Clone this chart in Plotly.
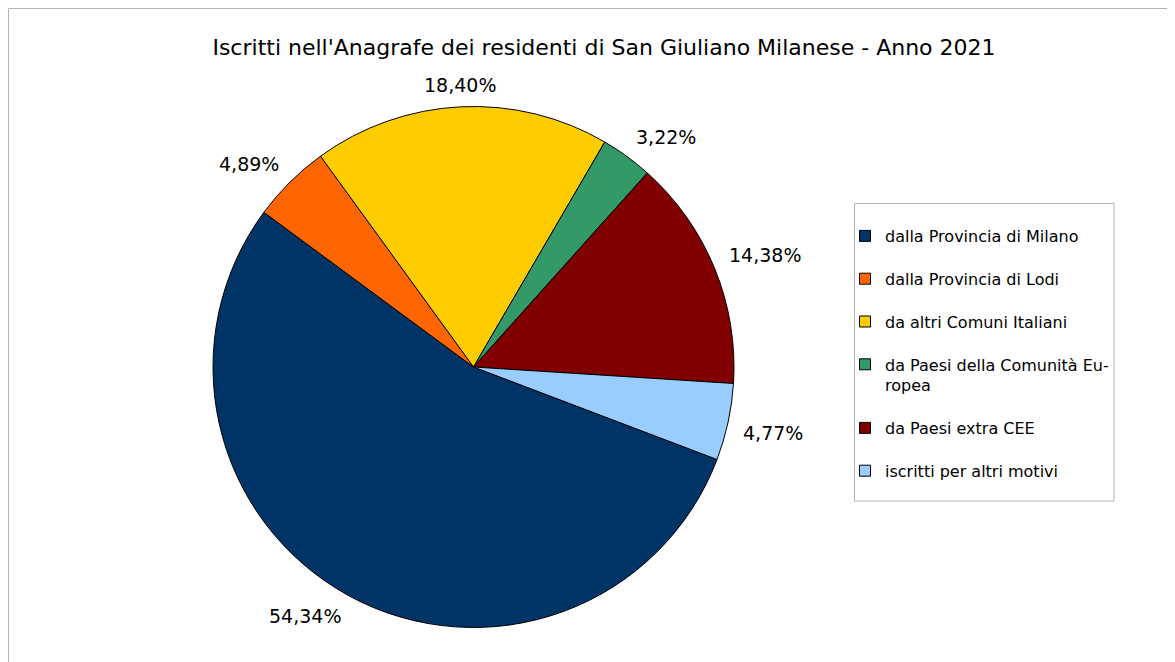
import math
import plotly.graph_objects as go

categories = [
    "dalla Provincia di Milano",
    "dalla Provincia di Lodi",
    "da altri Comuni Italiani",
    "da Paesi della Comunità Eu-<br>ropea",
    "da Paesi extra CEE",
    "iscritti per altri motivi",
]
values = [54.34, 4.89, 18.40, 3.22, 14.38, 4.77]
colors = ["#003366", "#ff6600", "#ffcc00", "#339966", "#800000", "#99ccff"]
title = "Iscritti nell'Anagrafe dei residenti di San Giuliano Milanese - Anno 2021"

W, H = 1175, 662
OFF = 8  # page body margin
FONT = "DejaVu Sans"
ROTATION = 110.8

# pie placement (pixels in the page)
PIE_L, PIE_R, PIE_T, PIE_B = 213, 734, 106, 628


def px_x(x):
    return (x - OFF) / W


def px_y(y):
    return 1 - (y - OFF) / H


labels_txt = [f"{v:.2f}%".replace(".", ",") for v in values]

fig = go.Figure()
fig.add_trace(go.Pie(
    labels=categories,
    values=values,
    textinfo="none",
    sort=False,
    direction="clockwise",
    rotation=ROTATION,
    marker=dict(colors=colors, line=dict(color="#000000", width=1)),
    showlegend=False,
    hoverinfo="label+percent",
    domain=dict(x=[px_x(PIE_L), px_x(PIE_R)], y=[px_y(PIE_B), px_y(PIE_T)]),
))

# percentage labels placed outside each slice, at its mid angle
cx, cy = (PIE_L + PIE_R) / 2, (PIE_T + PIE_B) / 2
rad = min(PIE_R - PIE_L, PIE_B - PIE_T) / 2
GAP, HALF_H = 14, 8
total = sum(values)
acc = 0.0
annotations = []
for v, t in zip(values, labels_txt):
    mid = math.radians(ROTATION + 360 * (acc + v / 2) / total)
    acc += v
    dx, dy = math.sin(mid), -math.cos(mid)
    px = cx + (rad + GAP) * dx
    py = cy + (rad + GAP) * dy
    if dx > 0.1:
        xa = "left"
    elif dx < -0.1:
        xa = "right"
    else:
        xa = "center"
    sy = 1 if dy > 0.1 else (-1 if dy < -0.1 else 0)
    annotations.append(dict(
        text=t, xref="paper", yref="paper",
        x=px_x(px), y=px_y(py + sy * HALF_H),
        xanchor=xa, yanchor="middle", showarrow=False, borderpad=0,
        font=dict(family=FONT, size=19, color="#000000"),
    ))

for i, (name, c) in enumerate(zip(categories, colors)):
    fig.add_trace(go.Scatter(
        x=[None], y=[None], mode="markers", name=name,
        legendgroup=f"g{i}",
        marker=dict(symbol="square", size=11, color=c, line=dict(color="#000000", width=1)),
        hoverinfo="skip",
    ))

fig.update_layout(
    width=W, height=H,
    margin=dict(l=0, r=0, t=0, b=0),
    paper_bgcolor="#ffffff",
    plot_bgcolor="rgba(0,0,0,0)",
    title=dict(text=title, x=px_x(604), xanchor="center", y=px_y(47), yanchor="middle",
               font=dict(family=FONT, size=22, color="#000000")),
    xaxis=dict(visible=False),
    yaxis=dict(visible=False),
    showlegend=True,
    legend=dict(
        x=px_x(845), xanchor="left", y=px_y(219), yanchor="top",
        font=dict(family=FONT, size=16, color="#000000"),
        tracegroupgap=19, valign="top", itemwidth=30,
        bgcolor="rgba(0,0,0,0)", borderwidth=0,
    ),
    annotations=annotations,
    shapes=[
        dict(type="rect", xref="paper", yref="paper",
             x0=px_x(8.5), y0=px_y(690), x1=px_x(1200), y1=px_y(8.5),
             line=dict(color="#b3b3b3", width=1), layer="below"),
        dict(type="rect", xref="paper", yref="paper",
             x0=px_x(854.5), y0=px_y(501), x1=px_x(1114), y1=px_y(203.5),
             line=dict(color="#b3b3b3", width=1), layer="below"),
    ],
)

fig.write_html("out.html")
